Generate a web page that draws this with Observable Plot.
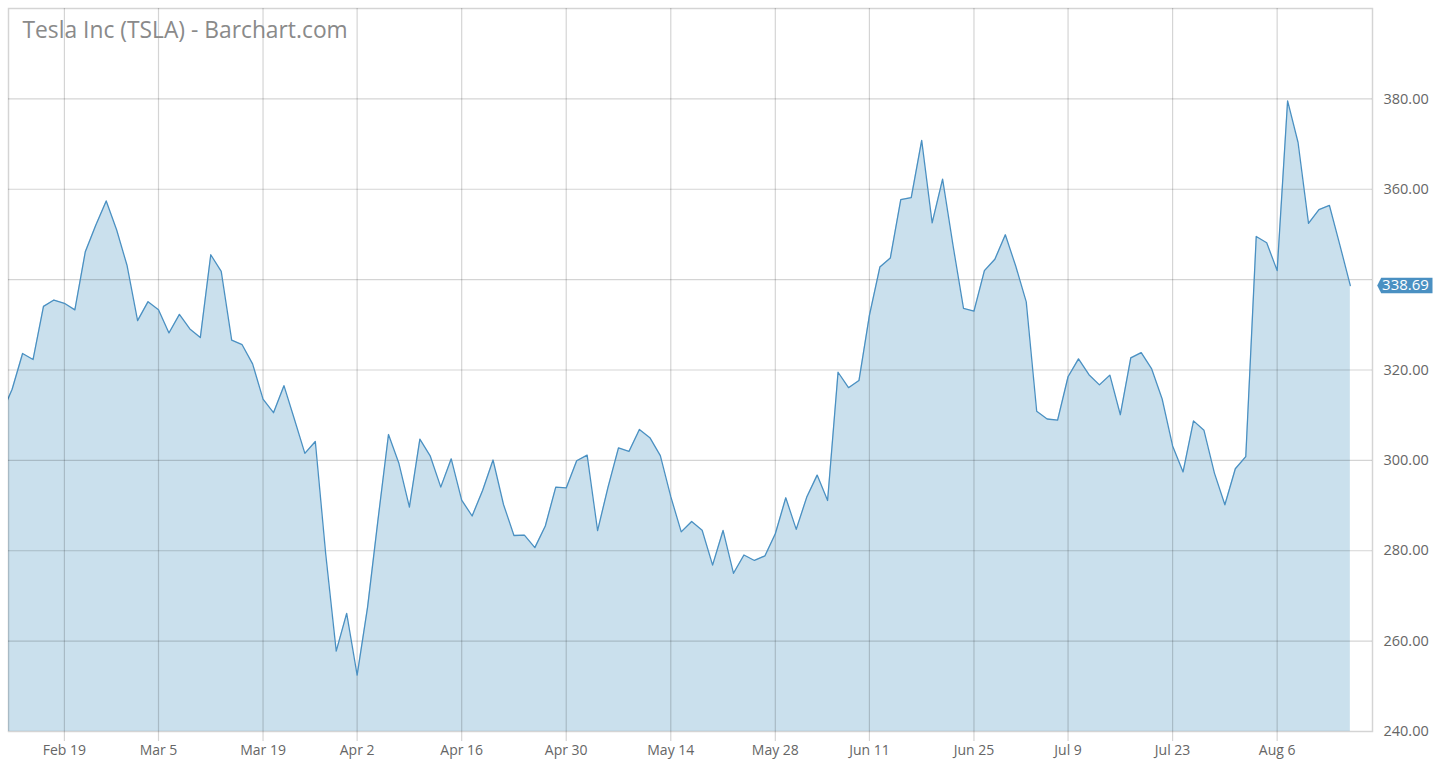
<!DOCTYPE html>
<html>
<head>
<meta charset="utf-8">
<script src="https://cdn.jsdelivr.net/npm/d3@7"></script>
<script src="https://cdn.jsdelivr.net/npm/@observablehq/plot@0.6"></script>
<style>
  html, body { margin: 0; padding: 0; background: #fff; }
  #chart svg { display: block; }
</style>
</head>
<body>
<div id="chart"></div>
<script>
// Trading dates (2018, MM-DD) and closing prices for TSLA
const dates = [
  "02-09","02-12","02-13","02-14","02-15","02-16","02-20","02-21","02-22","02-23",
  "02-26","02-27","02-28","03-01","03-02","03-05","03-06","03-07","03-08","03-09",
  "03-12","03-13","03-14","03-15","03-16","03-19","03-20","03-21","03-22","03-23",
  "03-26","03-27","03-28","03-29","04-02","04-03","04-04","04-05","04-06","04-09",
  "04-10","04-11","04-12","04-13","04-16","04-17","04-18","04-19","04-20","04-23",
  "04-24","04-25","04-26","04-27","04-30","05-01","05-02","05-03","05-04","05-07",
  "05-08","05-09","05-10","05-11","05-14","05-15","05-16","05-17","05-18","05-21",
  "05-22","05-23","05-24","05-25","05-29","05-30","05-31","06-01","06-04","06-05",
  "06-06","06-07","06-08","06-11","06-12","06-13","06-14","06-15","06-18","06-19",
  "06-20","06-21","06-22","06-25","06-26","06-27","06-28","06-29","07-02","07-03",
  "07-05","07-06","07-09","07-10","07-11","07-12","07-13","07-16","07-17","07-18",
  "07-19","07-20","07-23","07-24","07-25","07-26","07-27","07-30","07-31","08-01",
  "08-02","08-03","08-06","08-07","08-08","08-09","08-10","08-13","08-14","08-15"
];
const closes = [
  310.42,315.73,323.66,322.31,334.07,335.49,334.77,333.30,346.17,352.05,
  357.42,350.99,343.06,330.93,335.12,333.35,328.20,332.30,329.10,327.17,
  345.51,341.84,326.63,325.60,321.35,313.56,310.55,316.53,309.10,301.54,
  304.18,279.18,257.78,266.13,252.48,267.53,286.94,305.72,299.30,289.66,
  304.70,300.93,294.08,300.34,291.21,287.69,293.35,300.08,290.24,283.37,
  283.46,280.69,285.48,294.08,293.90,299.92,301.15,284.45,294.09,302.77,
  301.97,306.85,305.02,301.06,291.97,284.18,286.48,284.54,276.82,284.49,
  275.01,279.07,277.85,278.85,283.76,291.72,284.73,291.82,296.74,291.13,
  319.50,316.09,317.66,332.10,342.77,344.78,357.72,358.17,370.83,352.55,
  362.22,347.51,333.63,333.01,342.00,344.50,349.93,342.95,335.07,310.86,
  309.16,308.90,318.51,322.47,318.96,316.71,318.87,310.10,322.69,323.85,
  320.23,313.58,303.20,297.43,308.74,306.65,297.18,290.17,298.14,300.84,
  349.54,348.17,341.99,379.57,370.34,352.45,355.49,356.41,347.64,338.69
];
const tickDates  = ["02-19","03-05","03-19","04-02","04-16","04-30","05-14","05-28","06-11","06-25","07-09","07-23","08-06"];
const tickLabels = ["Feb 19","Mar 5","Mar 19","Apr 2","Apr 16","Apr 30","May 14","May 28","Jun 11","Jun 25","Jul 9","Jul 23","Aug 6"];
// y labels (340.00 is hidden behind the last-price tag in the reference)
const yTicks = [240, 260, 280, 300, 320, 360, 380];
const yGrid  = [260, 280, 300, 320, 340, 360, 380];
const title = "Tesla Inc (TSLA) - Barchart.com";

const data = dates.map((d, i) => ({i, date: d, close: closes[i]}));
const last = data[data.length - 1];

// tick position = index of first trading day on/after the tick date
const tickPos = tickDates.map(td => dates.findIndex(d => d >= td));
const labelOf = new Map(tickPos.map((p, k) => [p, tickLabels[k]]));

const gridStroke = {stroke: "#000", strokeOpacity: 0.17, strokeWidth: 1.2};

// custom symbol: price tag with a left-pointing notch
const tagSymbol = {
  draw(ctx) {
    ctx.moveTo(4.7, 0);
    ctx.lineTo(8.7, -7.8);
    ctx.lineTo(60, -7.8);
    ctx.lineTo(60, 7.8);
    ctx.lineTo(8.7, 7.8);
    ctx.closePath();
  }
};

const chart = Plot.plot({
  width: 1439,
  height: 761,
  marginLeft: 8,
  marginRight: 67,
  marginTop: 8,
  marginBottom: 30,
  style: {fontFamily: "'Open Sans', sans-serif", background: "#fff", overflow: "visible"},
  x: {type: "linear", domain: [0.653, 131.12], axis: null},
  y: {domain: [240, 400], axis: null},
  marks: [
    Plot.areaY(data, {x: "i", y1: 240, y2: "close", fill: "#cae0ed", clip: true}),
    Plot.gridY(yGrid, gridStroke),
    Plot.gridX(tickPos, gridStroke),
    Plot.lineY(data, {x: "i", y: "close", stroke: "#4a90c2", strokeWidth: 1.3, clip: true}),
    Plot.frame({...gridStroke, strokeWidth: 1.5}),
    Plot.axisX(tickPos, {
      anchor: "bottom",
      label: null,
      tickSize: 10,
      tickPadding: 4,
      tickFormat: d => labelOf.get(d),
      ...gridStroke,
      fill: "#666",
      fontSize: 14
    }),
    Plot.axisY(yTicks, {
      anchor: "right",
      label: null,
      tickSize: 0,
      tickPadding: 11,
      tickFormat: d => d.toFixed(2),
      fill: "#666",
      fontSize: 14.5
    }),
    Plot.text([title], {
      frameAnchor: "top-left",
      dx: 14,
      dy: 13,
      lineAnchor: "top",
      fill: "#8a8a8a",
      fontSize: 22.8
    }),
    Plot.dot([last], {y: "close", frameAnchor: "right", symbol: tagSymbol, r: 8, fill: "#4a90c2", stroke: "none"}),
    Plot.text([last], {
      y: "close",
      frameAnchor: "right",
      dx: 33,
      text: d => d.close.toFixed(2),
      textAnchor: "middle",
      fill: "#fff",
      fontSize: 15
    })
  ]
});
document.getElementById("chart").appendChild(chart);
</script>
</body>
</html>
